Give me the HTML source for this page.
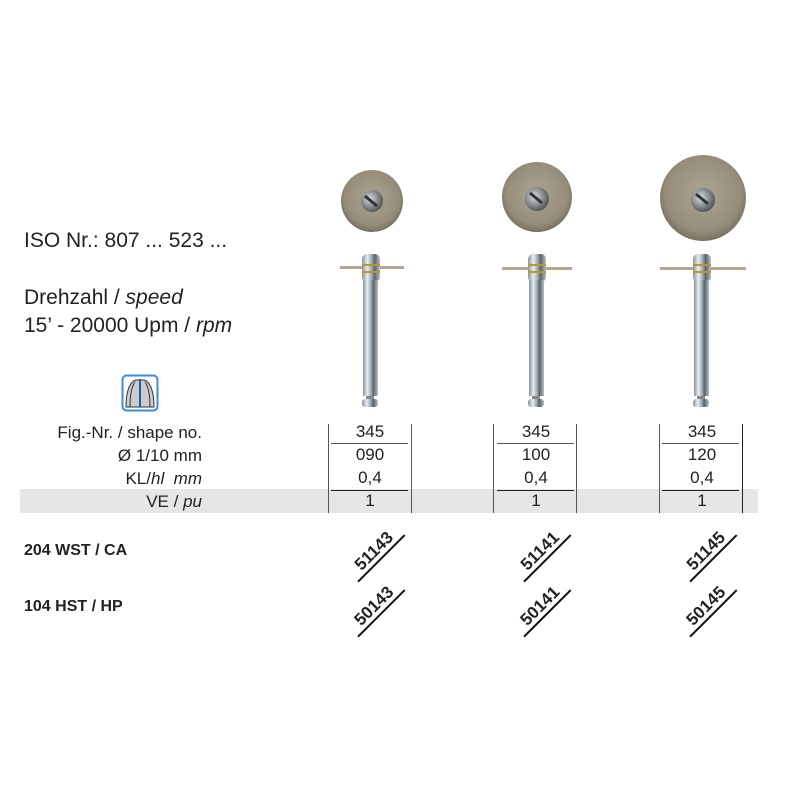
<!DOCTYPE html>
<html><head><meta charset="utf-8"><style>
body{margin:0;background:#fff;width:801px;height:801px;position:relative;overflow:hidden;font-family:"Liberation Sans",sans-serif;color:#222}
.t{position:absolute;white-space:nowrap}
.lbl{position:absolute;right:599px;font-size:17px;text-align:right;white-space:nowrap}
.num{position:absolute;width:70px;text-align:center;font-size:17px}
.rot{position:absolute;width:66px;text-align:center;font-weight:bold;font-size:17px;line-height:18px;border-bottom:2.5px solid #111;transform:rotate(-45deg);transform-origin:center}
.vl{position:absolute;top:424px;height:89px;width:1px;background:#555}
.hl{position:absolute;height:1px;background:#555}
</style></head><body>
<div style="position:absolute;left:20px;top:489px;width:738px;height:24px;background:#e6e6e6"></div>

<div class="t" style="left:24px;top:229px;font-size:21px">ISO Nr.: 807 ... 523 ...</div>
<div class="t" style="left:24px;top:286px;font-size:21px">Drehzahl / <i>speed</i></div>
<div class="t" style="left:24px;top:314px;font-size:21px">15’ - 20000 Upm / <i>rpm</i></div>

<svg style="position:absolute;left:121px;top:374px" width="38" height="38">
<rect x="1.5" y="1.5" width="35" height="35" rx="4" fill="#fff" stroke="#3a8dde" stroke-width="2"/>
<path d="M5 33 C5 15 10 6 16 6 L22 6 C28 6 33 15 33 33 Z" fill="#ccc" stroke="#333" stroke-width="1"/>
<path d="M9 33 C9 20 11 12 14 8" fill="none" stroke="#333"/>
<path d="M29 33 C29 20 27 12 24 8" fill="none" stroke="#333"/>
<line x1="19" y1="5" x2="19" y2="33" stroke="#1a5fae" stroke-width="2"/>
</svg>

<div class="lbl" style="top:423px">Fig.-Nr. / shape no.</div>
<div class="lbl" style="top:446px">Ø 1/10 mm</div>
<div class="lbl" style="top:469px">KL/<i>hl&nbsp; mm</i></div>
<div class="lbl" style="top:492px">VE / <i>pu</i></div>

<div class="t" style="left:24px;top:542px;font-size:16px;font-weight:bold">204 WST / CA</div>
<div class="t" style="left:24px;top:598px;font-size:16px;font-weight:bold">104 HST / HP</div>

<div class="vl" style="left:328px"></div><div class="vl" style="left:411px"></div>
<div class="vl" style="left:493px"></div><div class="vl" style="left:576px"></div>
<div class="vl" style="left:659px"></div><div class="vl" style="left:742px;background:#222"></div>
<div class="hl" style="left:331px;top:443px;width:77px"></div>
<div class="hl" style="left:331px;top:490px;width:77px;background:#222"></div>
<div class="hl" style="left:497px;top:443px;width:77px"></div>
<div class="hl" style="left:497px;top:490px;width:77px;background:#222"></div>
<div class="hl" style="left:662px;top:443px;width:77px"></div>
<div class="hl" style="left:662px;top:490px;width:77px;background:#222"></div>

<div class="num" style="left:335px;top:422px">345</div>
<div class="num" style="left:335px;top:445px">090</div>
<div class="num" style="left:335px;top:468px">0,4</div>
<div class="num" style="left:335px;top:491px">1</div>
<div class="num" style="left:501px;top:422px">345</div>
<div class="num" style="left:501px;top:445px">100</div>
<div class="num" style="left:501px;top:468px">0,4</div>
<div class="num" style="left:501px;top:491px">1</div>
<div class="num" style="left:667px;top:422px">345</div>
<div class="num" style="left:667px;top:445px">120</div>
<div class="num" style="left:667px;top:468px">0,4</div>
<div class="num" style="left:667px;top:491px">1</div>

<div class="rot" style="left:342px;top:542px">51143</div>
<div class="rot" style="left:342px;top:597px">50143</div>
<div class="rot" style="left:508px;top:542px">51141</div>
<div class="rot" style="left:508px;top:597px">50141</div>
<div class="rot" style="left:674px;top:542px">51145</div>
<div class="rot" style="left:674px;top:597px">50145</div>

<svg style="position:absolute;left:0;top:0" width="801" height="420">
<defs>
<radialGradient id="d" cx="50%" cy="45%" r="55%"><stop offset="0" stop-color="#aca590"/><stop offset="0.8" stop-color="#958d7a"/><stop offset="1" stop-color="#77705f"/></radialGradient>
<linearGradient id="s" x1="0" x2="1"><stop offset="0" stop-color="#8a9298"/><stop offset="0.3" stop-color="#e8eef2"/><stop offset="0.55" stop-color="#9aa4aa"/><stop offset="0.7" stop-color="#5a646b"/><stop offset="1" stop-color="#b8c0c5"/></linearGradient>
<radialGradient id="sc" cx="40%" cy="40%" r="60%"><stop offset="0" stop-color="#d8dcde"/><stop offset="1" stop-color="#55595c"/></radialGradient>
</defs>
<g>
<circle cx="372" cy="201" r="31" fill="url(#d)"/>
<circle cx="372" cy="201" r="11" fill="url(#sc)"/>
<line x1="365" y1="196" x2="377" y2="206" stroke="#333" stroke-width="3"/>
<rect x="340" y="266" width="64" height="3" fill="#b0a890"/>
<rect x="362" y="254" width="18" height="28" rx="5" fill="url(#s)"/>
<rect x="362" y="264" width="18" height="2" fill="#b8982a"/><rect x="362" y="271" width="18" height="2" fill="#b8982a"/>
<rect x="363" y="280" width="15" height="116" fill="url(#s)"/>
<rect x="366" y="396" width="8" height="3" fill="#888"/>
<rect x="362" y="399" width="16" height="8" rx="3" fill="url(#s)"/>
</g>
<g>
<circle cx="537" cy="197" r="35" fill="url(#d)"/>
<circle cx="537" cy="199" r="12" fill="url(#sc)"/>
<line x1="530" y1="193" x2="542" y2="203" stroke="#333" stroke-width="3"/>
<rect x="502" y="267" width="70" height="3" fill="#b0a890"/>
<rect x="528" y="254" width="18" height="28" rx="5" fill="url(#s)"/>
<rect x="528" y="264" width="18" height="2" fill="#b8982a"/><rect x="528" y="271" width="18" height="2" fill="#b8982a"/>
<rect x="529" y="280" width="15" height="116" fill="url(#s)"/>
<rect x="532" y="396" width="8" height="3" fill="#888"/>
<rect x="528" y="399" width="16" height="8" rx="3" fill="url(#s)"/>
</g>
<g>
<circle cx="703" cy="198" r="43" fill="url(#d)"/>
<circle cx="703" cy="200" r="12" fill="url(#sc)"/>
<line x1="696" y1="194" x2="708" y2="204" stroke="#333" stroke-width="3"/>
<rect x="660" y="267" width="86" height="3" fill="#b0a890"/>
<rect x="693" y="254" width="18" height="28" rx="5" fill="url(#s)"/>
<rect x="693" y="264" width="18" height="2" fill="#b8982a"/><rect x="693" y="271" width="18" height="2" fill="#b8982a"/>
<rect x="694" y="280" width="15" height="116" fill="url(#s)"/>
<rect x="697" y="396" width="8" height="3" fill="#888"/>
<rect x="693" y="399" width="16" height="8" rx="3" fill="url(#s)"/>
</g>
</svg>
</body></html>
